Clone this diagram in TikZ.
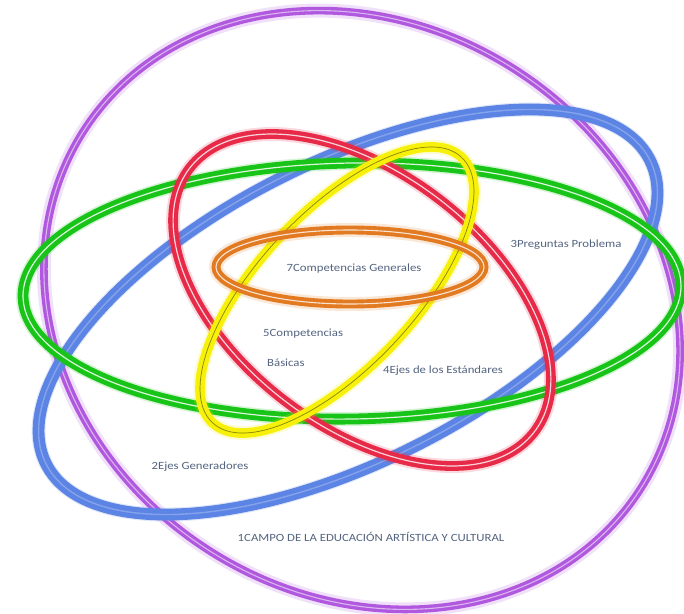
\documentclass[tikz,border=0pt]{standalone}
\usepackage{fontspec}
\newfontfamily\lab[FakeStretch=1.16]{Carlito}
\definecolor{cpurple}{RGB}{176,88,222}
\definecolor{cblue}{RGB}{92,132,228}
\definecolor{cgreen}{RGB}{24,196,24}
\definecolor{cred}{RGB}{230,42,72}
\definecolor{cyellow}{RGB}{246,240,10}
\definecolor{corange}{RGB}{226,122,34}
\definecolor{labc}{RGB}{84,100,128}
\begin{document}
\begin{tikzpicture}[x=1pt,y=-1pt,
  glow/.style={draw=#1, line width=14pt, opacity=0.18},
  ring/.style={draw=#1},
  lbl/.style={font=\lab\fontsize{11}{13}\selectfont, text=labc, inner sep=0pt}]
\useasboundingbox (0,0) rectangle (684,613);
\fill[white] (0,0) rectangle (684,613);
% 1 purple
\begin{scope}[shift={(362,310)}, rotate=-33]
  \draw[glow=cpurple] (0,0) ellipse [x radius=331pt, y radius=285pt];
  \draw[ring=cpurple, line width=3.3pt, double=cpurple!45!white, double distance=1.1pt] (0,0) ellipse [x radius=331pt, y radius=285pt];
\end{scope}
% 2 blue
\begin{scope}[shift={(348,312)}, rotate=26.7]
  \draw[glow=cblue] (0,0) ellipse [x radius=338pt, y radius=150pt];
  \draw[ring=cblue, line width=5.2pt, double=cblue!75!white, double distance=1.4pt] (0,0) ellipse [x radius=338pt, y radius=150pt];
\end{scope}
% 3 green
\begin{scope}[shift={(352,291)}, rotate=1]
  \draw[glow=cgreen] (0,0) ellipse [x radius=329pt, y radius=128pt];
  \draw[ring=cgreen, line width=4.8pt, double=white!85!cgreen, double distance=1.2pt] (0,0) ellipse [x radius=329pt, y radius=128pt];
\end{scope}
% 4 red
\begin{scope}[shift={(362,300)}, rotate=-37.4]
  \draw[glow=cred] (0,0) ellipse [x radius=217pt, y radius=127pt];
  \draw[ring=cred, line width=4.3pt, double=white!80!cred, double distance=1.2pt] (0,0) ellipse [x radius=217pt, y radius=127pt];
\end{scope}
% 5 yellow
\begin{scope}[shift={(337,290)}, rotate=46.8]
  \draw[glow=cyellow] (0,0) ellipse [x radius=182pt, y radius=78pt];
  \draw[ring=cyellow, line width=4.5pt, double=cyellow!55!black, double distance=0.7pt] (0,0) ellipse [x radius=182pt, y radius=78pt];
\end{scope}
% 7 orange
\begin{scope}[shift={(350,267)}]
  \draw[glow=corange] (0,0) ellipse [x radius=134pt, y radius=37pt];
  \draw[ring=corange, line width=3.9pt, double=white!80!corange, double distance=1.1pt] (0,0) ellipse [x radius=134pt, y radius=37pt];
\end{scope}
% labels
\node[lbl] (t7) at (354,269) {7Competencias Generales};
\node[lbl, anchor=west] (t5) at (263,334) {5Competencias};
\node[lbl, anchor=west] (t5b) at (267,363) {Básicas};
\node[lbl] (t4) at (443,371) {4Ejes de los Estándares};
\node[lbl] (t3) at (566,245) {3Preguntas Problema};
\node[lbl] (t2) at (200,467) {2Ejes Generadores};
\node[lbl] (t1) at (371,537) {1CAMPO DE LA EDUCACIÓN ARTÍSTICA Y CULTURAL};
\end{tikzpicture}
\end{document}
